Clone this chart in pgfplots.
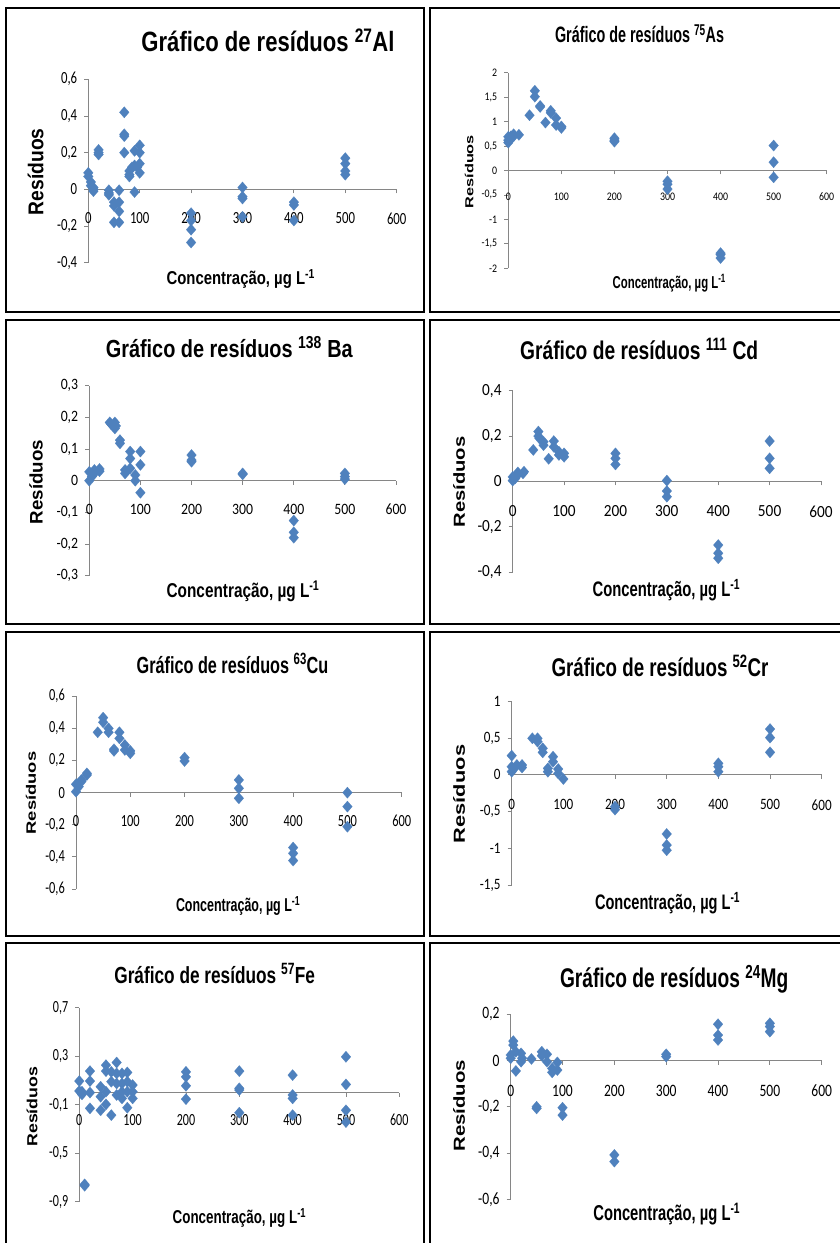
\documentclass[border=0pt]{standalone}
\usepackage{pgfplots}
\pgfplotsset{compat=1.18}
\usepackage{fontspec}
\usepackage{graphicx}
\setmainfont{Liberation Sans}
\newfontfamily\carlito{Carlito}
\newfontfamily\arialf{Liberation Sans}
\definecolor{markblue}{HTML}{4F81BD}
\definecolor{axisgray}{HTML}{868686}
\newcommand{\tf}[1]{\fontsize{#1}{#1}\selectfont\carlito}
\newcommand{\ttl}[4]{\resizebox{#2pt}{\height}{\fontsize{#1}{#1}\selectfont\arialf\bfseries Gráfico de resíduos #3#4}}
\newcommand{\yl}[2]{\resizebox{#1pt}{#2pt}{\fontsize{20}{20}\selectfont\arialf\bfseries Resíduos}}
\newcommand{\xl}[2]{\resizebox{#2pt}{\height}{\fontsize{#1}{#1}\selectfont\arialf\bfseries Concentração, µg L\textsuperscript{-1}}}
\pgfplotsset{
 resid/.style={
  scale only axis, anchor=south west,
  axis x line*=middle, axis y line*=left,
  xmin=0, xmax=600, xtick={0,100,...,600},
  hide obscured x ticks=false, hide obscured y ticks=false,
  axis line style={draw=axisgray, line width=0.8pt},
  every tick/.style={draw=axisgray, line width=0.8pt},
  major tick length=4pt, tick align=outside,
  clip=false,
  /pgf/number format/use comma,
  /pgf/number format/fixed,
  /pgf/number format/assume math mode=true,
 },
 pts/.style={only marks, mark=diamond*, mark size=5.6pt,
  mark options={fill=markblue, draw=markblue, line width=0.2pt, xscale=1.15}},
}
\begin{document}
\begin{tikzpicture}[x=1pt,y=1pt]
\useasboundingbox (0,0) rectangle (840,1243);
% panel frames
\begin{scope}[line width=2pt]
\draw (6,1235) rectangle (424,930.5);
\draw (430,1235) rectangle (850,930.5);
\draw (6,922.5) rectangle (424,619);
\draw (430,922.5) rectangle (850,619);
\draw (6,611) rectangle (424,307);
\draw (430,611) rectangle (850,307);
\draw (6,299.5) rectangle (424,-10);
\draw (430,299.5) rectangle (850,-10);
\end{scope}

% ---------- Al ----------
\begin{axis}[resid, at={(88.3pt,980.3pt)}, width=308.4pt, height=183.4pt,
  ymin=-0.4, ymax=0.6, ytick={-0.4,-0.2,0,0.2,0.4,0.6},
  ticklabel style={font=\tf{17}},
  yticklabel style={anchor=east, inner sep=0pt, xshift=-7pt, xscale=0.75},
  xticklabel style={anchor=center, inner sep=0pt, yshift=-25pt, xscale=0.75}]
\addplot[pts] coordinates {(0,0.09)(0,0.07)(5,0.04)(5,0.02)(10,0.01)(10,-0.01)(10,0.0)(20,0.215)(20,0.19)(20,0.2)(40,-0.005)(40,-0.02)(40,-0.03)(50,-0.07)(50,-0.09)(50,-0.18)(60,-0.005)(60,-0.07)(60,-0.12)(60,-0.18)(70,0.42)(70,0.3)(70,0.29)(70,0.2)(80,0.1)(80,0.08)(80,0.07)(85,0.12)(90,0.21)(90,0.13)(90,-0.015)(95,0.12)(100,0.24)(100,0.2)(100,0.14)(100,0.09)(200,-0.13)(200,-0.17)(200,-0.22)(200,-0.29)(300,0.01)(300,-0.04)(300,-0.05)(300,-0.15)(400,-0.07)(400,-0.085)(400,-0.17)(500,0.17)(500,0.14)(500,0.1)(500,0.08)};
\end{axis}
\node[anchor=base, inner sep=0pt] at (268,1191.3) {\ttl{27.9}{253}{\textsuperscript{27}}{Al}};
\node[rotate=90, inner sep=0pt] at (35.7,1071.3) {\yl{86.7}{15.7}};
\node[anchor=base, inner sep=0pt] at (240.7,958) {\xl{18.6}{148.3}};

% ---------- As ----------
\begin{axis}[resid, at={(508.3pt,974.7pt)}, width=318.4pt, height=195.6pt,
  ymin=-2, ymax=2, ytick={-2,-1.5,-1,-0.5,0,0.5,1,1.5,2},
  ticklabel style={font=\tf{11.6}},
  yticklabel style={anchor=east, inner sep=0pt, xshift=-7pt, xscale=0.85},
  xticklabel style={anchor=center, inner sep=0pt, yshift=-22pt, xscale=0.85}]
\addplot[pts] coordinates {(0,0.57)(0,0.69)(0,0.62)(5,0.7)(5,0.65)(10,0.74)(10,0.7)(20,0.73)(40,1.13)(50,1.63)(50,1.51)(60,1.32)(60,1.3)(70,0.98)(80,1.22)(80,1.18)(90,1.07)(90,0.93)(100,0.9)(100,0.87)(200,0.66)(200,0.59)(200,0.62)(300,-0.22)(300,-0.28)(300,-0.38)(400,-1.69)(400,-1.79)(400,-1.72)(500,0.51)(500,0.17)(500,-0.14)};
\end{axis}
\node[anchor=base, inner sep=0pt] at (639.5,1200.3) {\ttl{22.3}{169}{\textsuperscript{75}}{As}};
\node[rotate=90, inner sep=0pt] at (469.3,1071.3) {\yl{73.3}{8.5}};
\node[anchor=base, inner sep=0pt] at (669.2,954.7) {\xl{17.2}{113}};

% ---------- Ba ----------
\begin{axis}[resid, at={(89.3pt,667.3pt)}, width=306.7pt, height=190pt,
  ymin=-0.3, ymax=0.3, ytick={-0.3,-0.2,-0.1,0,0.1,0.2,0.3},
  ticklabel style={font=\tf{15.8}},
  yticklabel style={anchor=east, inner sep=0pt, xshift=-7pt, xscale=0.87},
  xticklabel style={anchor=center, inner sep=0pt, yshift=-25pt, xscale=0.87}]
\addplot[pts] coordinates {(0,0.0)(0,0.028)(5,0.013)(10,0.034)(10,0.023)(20,0.037)(20,0.03)(40,0.184)(43,0.178)(50,0.184)(50,0.165)(52,0.173)(60,0.128)(60,0.118)(70,0.034)(70,0.023)(80,0.092)(80,0.07)(80,0.039)(90,0.018)(90,0.0)(100,0.092)(100,0.05)(100,-0.038)(200,0.081)(200,0.065)(200,0.06)(300,0.023)(300,0.02)(400,-0.126)(400,-0.163)(400,-0.18)(500,0.023)(500,0.013)(500,0.005)};
\end{axis}
\node[anchor=base, inner sep=0pt] at (229.3,885.3) {\ttl{24.7}{247}{\textsuperscript{138} }{Ba}};
\node[rotate=90, inner sep=0pt] at (36,761) {\yl{84.3}{13.3}};
\node[anchor=base, inner sep=0pt] at (243,645.3) {\xl{20}{152.7}};

% ---------- Cd ----------
\begin{axis}[resid, at={(512.7pt,670.7pt)}, width=308.3pt, height=181.6pt,
  ymin=-0.4, ymax=0.4, ytick={-0.4,-0.2,0,0.2,0.4},
  ticklabel style={font=\tf{17}},
  yticklabel style={anchor=east, inner sep=0pt, xshift=-7pt, xscale=0.9},
  xticklabel style={anchor=center, inner sep=0pt, yshift=-26pt, xscale=0.9}]
\addplot[pts] coordinates {(0,0.004)(0,0.02)(5,0.014)(10,0.04)(10,0.03)(20,0.036)(22,0.043)(40,0.139)(50,0.22)(50,0.2)(52,0.19)(60,0.175)(60,0.16)(70,0.1)(80,0.178)(80,0.153)(90,0.131)(90,0.117)(100,0.124)(100,0.109)(200,0.124)(200,0.102)(200,0.075)(300,0.004)(300,-0.042)(300,-0.067)(400,-0.28)(400,-0.316)(400,-0.338)(500,0.178)(500,0.102)(500,0.058)};
\end{axis}
\node[anchor=base, inner sep=0pt] at (639.2,883) {\ttl{25.6}{238}{\textsuperscript{111} }{Cd}};
\node[rotate=90, inner sep=0pt] at (459,761) {\yl{91}{11.7}};
\node[anchor=base, inner sep=0pt] at (666.3,646.3) {\xl{21}{147.3}};

% ---------- Cu ----------
\begin{axis}[resid, at={(76pt,354pt)}, width=325.7pt, height=192.7pt,
  ymin=-0.6, ymax=0.6, ytick={-0.6,-0.4,-0.2,0,0.2,0.4,0.6},
  ticklabel style={font=\tf{17}},
  yticklabel style={anchor=east, inner sep=0pt, xshift=-7pt, xscale=0.73},
  xticklabel style={anchor=center, inner sep=0pt, yshift=-24pt, xscale=0.73}]
\addplot[pts] coordinates {(0,0.006)(0,0.052)(5,0.037)(5,0.058)(10,0.069)(10,0.079)(20,0.11)(20,0.12)(40,0.376)(50,0.467)(50,0.438)(60,0.4)(60,0.376)(70,0.26)(70,0.27)(80,0.376)(80,0.338)(90,0.297)(90,0.266)(100,0.26)(100,0.245)(200,0.218)(200,0.197)(300,0.079)(300,0.027)(300,-0.035)(400,-0.342)(400,-0.378)(400,-0.423)(500,0.0)(500,-0.087)(500,-0.212)};
\end{axis}
\node[anchor=base, inner sep=0pt] at (232.5,569.7) {\ttl{23.3}{191.7}{\textsuperscript{63}}{Cu}};
\node[rotate=90, inner sep=0pt] at (31,450) {\yl{82.7}{10}};
\node[anchor=base, inner sep=0pt] at (238,331.3) {\xl{18.6}{124}};

% ---------- Cr ----------
\begin{axis}[resid, at={(511.7pt,357.3pt)}, width=310pt, height=184.7pt,
  ymin=-1.5, ymax=1, ytick={-1.5,-1,-0.5,0,0.5,1},
  ticklabel style={font=\tf{15.8}},
  yticklabel style={anchor=east, inner sep=0pt, xshift=-7pt, xscale=0.83},
  xticklabel style={anchor=center, inner sep=0pt, yshift=-26pt, xscale=0.83}]
\addplot[pts] coordinates {(0,0.26)(0,0.11)(0,0.043)(5,0.088)(10,0.134)(20,0.134)(20,0.1)(40,0.495)(50,0.495)(50,0.45)(60,0.36)(60,0.305)(70,0.088)(70,0.043)(80,0.246)(80,0.178)(90,0.079)(90,0.02)(100,-0.056)(200,-0.43)(200,-0.47)(300,-0.8)(300,-0.95)(300,-1.02)(400,0.156)(400,0.11)(400,0.043)(500,0.62)(500,0.504)(500,0.305)};
\end{axis}
\node[anchor=base, inner sep=0pt] at (660,566.3) {\ttl{25.6}{216.7}{\textsuperscript{52}}{Cr}};
\node[rotate=90, inner sep=0pt] at (459,449) {\yl{98.3}{11.7}};
\node[anchor=base, inner sep=0pt] at (667.5,333) {\xl{21}{145}};

% ---------- Fe ----------
\begin{axis}[resid, at={(79.3pt,41.3pt)}, width=320pt, height=194pt,
  ymin=-0.9, ymax=0.7, ytick={-0.9,-0.5,-0.1,0.3,0.7},
  ticklabel style={font=\tf{17}},
  yticklabel style={anchor=east, inner sep=0pt, xshift=-7pt, xscale=0.71},
  xticklabel style={anchor=center, inner sep=0pt, yshift=-23pt, xscale=0.71}]
\addplot[pts] coordinates {(0,0.095)(0,0.013)(5,-0.015)(5,0.007)(10,-0.757)(10,-0.768)(20,0.177)(20,0.095)(20,0.0)(20,-0.13)(40,0.048)(40,-0.034)(40,-0.146)(50,0.226)(50,0.177)(50,0.007)(50,-0.097)(60,0.171)(60,0.09)(60,-0.186)(70,0.248)(70,0.158)(70,0.075)(70,-0.02)(80,0.158)(80,0.075)(80,0.007)(80,-0.048)(90,0.166)(90,0.09)(90,0.007)(90,-0.125)(100,0.062)(100,0.007)(100,-0.048)(200,0.171)(200,0.13)(200,0.056)(200,-0.054)(300,0.177)(300,0.035)(300,0.021)(300,-0.166)(400,0.144)(400,-0.02)(400,-0.048)(400,-0.186)(500,0.295)(500,0.067)(500,-0.146)(500,-0.243)};
\end{axis}
\node[anchor=base, inner sep=0pt] at (214.7,259.7) {\ttl{23.3}{200.7}{\textsuperscript{57}}{Fe}};
\node[rotate=90, inner sep=0pt] at (32,136.3) {\yl{80}{10.7}};
\node[anchor=base, inner sep=0pt] at (239.3,19.7) {\xl{18.6}{133.3}};

% ---------- Mg ----------
\begin{axis}[resid, at={(510.7pt,43.7pt)}, width=311pt, height=185pt,
  ymin=-0.6, ymax=0.2, ytick={-0.6,-0.4,-0.2,0,0.2},
  ticklabel style={font=\tf{17.4}},
  yticklabel style={anchor=east, inner sep=0pt, xshift=-7pt, xscale=0.78},
  xticklabel style={anchor=center, inner sep=0pt, yshift=-26pt, xscale=0.78}]
\addplot[pts] coordinates {(0,0.024)(0,0.01)(5,0.084)(5,0.067)(10,-0.045)(10,0.038)(20,0.031)(20,-0.005)(22,0.01)(40,0.007)(50,-0.2)(50,-0.207)(60,0.038)(60,0.021)(70,0.027)(70,-0.005)(80,-0.034)(80,-0.051)(90,-0.008)(90,-0.041)(100,-0.204)(100,-0.236)(200,-0.408)(200,-0.437)(300,0.027)(300,0.017)(400,0.157)(400,0.11)(400,0.089)(500,0.161)(500,0.125)(500,0.147)};
\end{axis}
\node[anchor=base, inner sep=0pt] at (674.2,255.3) {\ttl{27}{228.3}{\textsuperscript{24}}{Mg}};
\node[rotate=90, inner sep=0pt] at (459,137.3) {\yl{91.7}{11.7}};
\node[anchor=base, inner sep=0pt] at (666.7,22) {\xl{21.5}{146.7}};
\end{tikzpicture}
\end{document}
